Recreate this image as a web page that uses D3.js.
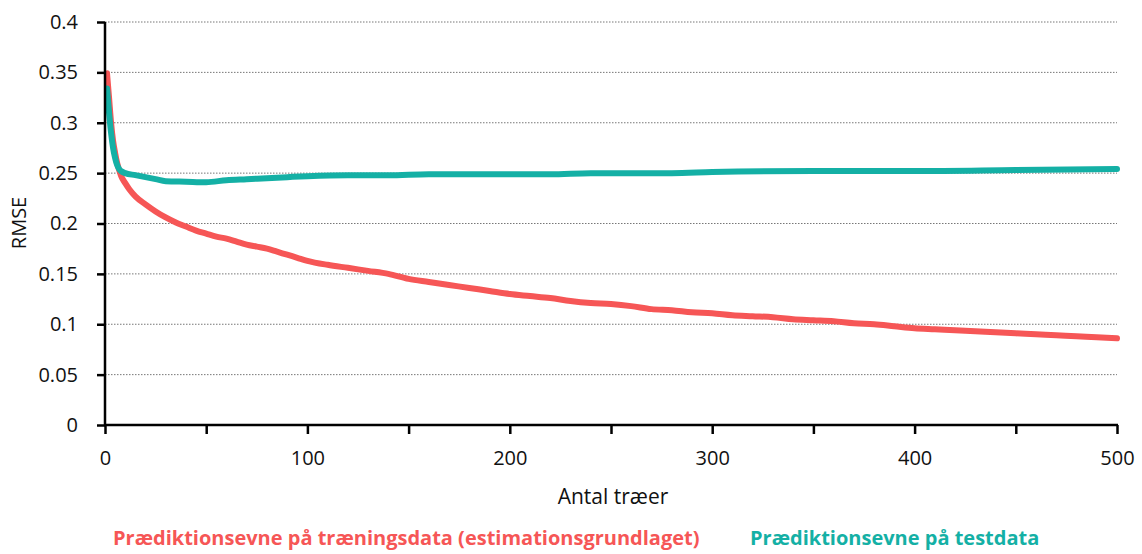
<!DOCTYPE html>
<html><head><meta charset="utf-8">
<script src="https://cdn.jsdelivr.net/npm/d3@7"></script>
<style>
body{margin:0;background:#fff;}
text{font-family:"Open Sans","Noto Sans",sans-serif;}
</style></head>
<body><svg id="c" width="1142" height="554"></svg>
<script>
const trainX = [1,2,3,4,5,6,7,8,10,12,15,20,25,30,35,40,45,50,55,60,65,70,75,80,85,90,95,100,110,120,130,140,150,160,170,180,190,200,210,220,230,240,250,260,270,280,290,300,310,320,330,340,350,360,370,380,390,400,410,420,430,440,450,460,470,480,490,500];
const trainY = [0.349,0.325,0.300,0.282,0.270,0.260,0.253,0.247,0.240,0.234,0.227,0.219,0.212,0.206,0.201,0.197,0.193,0.190,0.187,0.185,0.182,0.179,0.177,0.175,0.172,0.169,0.166,0.163,0.159,0.156,0.153,0.150,0.145,0.142,0.139,0.136,0.133,0.130,0.128,0.126,0.123,0.121,0.120,0.118,0.115,0.114,0.112,0.111,0.109,0.108,0.107,0.105,0.104,0.103,0.101,0.100,0.098,0.096,0.095,0.094,0.093,0.092,0.091,0.090,0.089,0.088,0.087,0.086];
const testX = [1,2,3,4,5,6,7,8,10,15,20,25,30,40,50,60,70,80,90,100,120,140,160,180,200,220,240,260,280,300,350,400,450,500];
const testY = [0.334,0.310,0.290,0.275,0.265,0.258,0.254,0.252,0.250,0.248,0.246,0.244,0.242,0.2415,0.241,0.243,0.244,0.245,0.246,0.247,0.248,0.248,0.249,0.249,0.249,0.249,0.250,0.250,0.250,0.251,0.252,0.252,0.253,0.254];
const yTicks = [0,0.05,0.1,0.15,0.2,0.25,0.3,0.35,0.4];
const xTicks = [0,50,100,150,200,250,300,350,400,450,500];
const xLabels = [0,100,200,300,400,500];
const seriesNames = ["Prædiktionsevne på træningsdata (estimationsgrundlaget)","Prædiktionsevne på testdata"];
const colors = ["#F65656","#14B0A5"];

const svg = d3.select("#c");
const x = d3.scaleLinear().domain([0,500]).range([105,1117]);
const y = d3.scaleLinear().domain([0,0.4]).range([425,22]);

// gridlines
svg.append("g").selectAll("line").data(yTicks.filter(d=>d>0)).join("line")
  .attr("x1",x(0)).attr("x2",x(500)).attr("y1",d=>y(d)).attr("y2",d=>y(d))
  .attr("stroke","#777").attr("stroke-width",1).attr("stroke-dasharray","1.5,1.5");

const line = d3.line().x(d=>x(d[0])).y(d=>y(d[1])).curve(d3.curveMonotoneX);
const train = trainX.map((v,i)=>[v,trainY[i]]);
const test = testX.map((v,i)=>[v,testY[i]]);
svg.append("path").datum(train).attr("d",line).attr("fill","none").attr("stroke",colors[0]).attr("stroke-width",6).attr("stroke-linecap","round").attr("stroke-linejoin","round");
svg.append("path").datum(test).attr("d",line).attr("fill","none").attr("stroke",colors[1]).attr("stroke-width",6).attr("stroke-linecap","round").attr("stroke-linejoin","round");

// y axis
const ya = svg.append("g").attr("transform",`translate(${x(0)},0)`)
  .call(d3.axisLeft(y).tickValues(yTicks).tickSize(8).tickPadding(19).tickFormat(d=>String(+d.toFixed(2))));
ya.select(".domain").attr("stroke","#000").attr("stroke-width",2.5).attr("d",`M-0,${y(0.4)}V${y(0)+1}`);
ya.selectAll(".tick line").attr("stroke","#000").attr("stroke-width",2.5);
ya.selectAll(".tick text").attr("font-size",20).attr("fill","#111").attr("font-family","'Open Sans',sans-serif");

// x axis
const xa = svg.append("g").attr("transform",`translate(0,${y(0)})`)
  .call(d3.axisBottom(x).tickValues(xTicks).tickSize(9).tickPadding(17).tickFormat(d=>xLabels.includes(d)?String(d):""));
xa.select(".domain").attr("stroke","#000").attr("stroke-width",2.5).attr("d",`M${x(0)-1},0H${x(500)+1}`);
xa.selectAll(".tick line").attr("stroke","#000").attr("stroke-width",2.5);
xa.selectAll(".tick text").attr("font-size",20).attr("fill","#111").attr("font-family","'Open Sans',sans-serif");

svg.append("text").attr("x",613).attr("y",504).attr("text-anchor","middle").attr("font-size",21).attr("fill","#111").text("Antal træer");
svg.append("text").attr("transform","translate(26,223) rotate(-90)").attr("text-anchor","middle").attr("font-size",20).attr("fill","#111").text("RMSE");

// legend
svg.append("text").attr("x",113).attr("y",545).attr("font-size",20).attr("font-weight","bold").attr("fill",colors[0]).text(seriesNames[0]);
svg.append("text").attr("x",750).attr("y",545).attr("font-size",20).attr("font-weight","bold").attr("fill",colors[1]).text(seriesNames[1]);
</script></body></html>
